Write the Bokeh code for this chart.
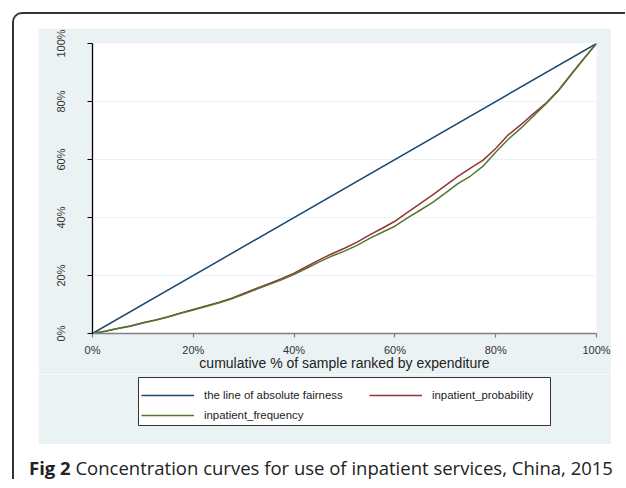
from bokeh.plotting import figure
from bokeh.models import Range1d, FixedTicker, Legend, LegendItem, Div
from bokeh.layouts import column
from bokeh.embed import file_html
from bokeh.resources import INLINE

# ---- data (percent) ----
x_pct = [0, 2.5, 5, 7.5, 10, 12.5, 15, 17.5, 20, 22.5, 25, 27.5, 30, 32.5, 35, 37.5,
         40, 42.5, 45, 47.5, 50, 52.5, 55, 57.5, 60, 62.5, 65, 67.5, 70, 72.5, 75,
         77.5, 80, 82.5, 85, 87.5, 90, 92.5, 95, 97.5, 100]
inpatient_probability = [0, 0.8, 1.7, 2.6, 3.7, 4.7, 5.8, 7.1, 8.3, 9.5, 10.7, 12.1, 13.8,
                         15.5, 17.2, 18.9, 20.8, 23.1, 25.4, 27.5, 29.4, 31.5, 34.0, 36.3,
                         38.7, 41.8, 44.8, 47.8, 51.0, 54.2, 57.0, 59.8, 63.8, 68.5, 72.0,
                         75.8, 79.5, 84.0, 89.5, 94.8, 100]
inpatient_frequency = [0, 0.8, 1.7, 2.5, 3.6, 4.6, 5.7, 7.0, 8.1, 9.3, 10.5, 11.9, 13.5,
                       15.2, 16.9, 18.5, 20.4, 22.5, 24.7, 26.7, 28.4, 30.4, 32.8, 34.9,
                       37.0, 39.9, 42.5, 45.2, 48.4, 51.7, 54.3, 57.7, 62.5, 67.0, 70.8,
                       75.0, 79.2, 83.8, 89.3, 94.7, 100]
fairness_x = [0, 100]
fairness_y = [0, 100]
ticks = [0, 20, 40, 60, 80, 100]
tick_labels = ["0%", "20%", "40%", "60%", "80%", "100%"]

series_names = ["the line of absolute fairness", "inpatient_probability", "inpatient_frequency"]
x_title = "cumulative % of sample ranked by expenditure"
caption_bold = "Fig 2"
caption_text = "Concentration curves for use of inpatient services, China, 2015"

PANEL = "#EAF2F3"
NAVY = "#1A476F"
MAROON = "#90353B"
GREEN = "#55752F"
FONT = "Liberation Sans"

# ---------------- main chart ----------------
p = figure(width=573, height=346, output_backend="svg", toolbar_location=None,
           x_range=Range1d(0, 100), y_range=Range1d(0, 100),
           min_border_left=54, min_border_right=15, min_border_top=15,
           min_border_bottom=41)
p.background_fill_color = "white"
p.border_fill_color = PANEL
p.outline_line_color = None

p.line(fairness_x, fairness_y, line_color=NAVY, line_width=1.5)
p.line(x_pct, inpatient_probability, line_color=MAROON, line_width=1.5)
p.line(x_pct, inpatient_frequency, line_color=GREEN, line_width=1.5)

labels = {t: l for t, l in zip(ticks, tick_labels)}

xa = p.xaxis[0]
xa.ticker = FixedTicker(ticks=ticks)
xa.major_label_overrides = labels
xa.axis_line_color = "#808080"
xa.axis_line_width = 1.6
xa.major_tick_line_color = "#808080"
xa.major_tick_line_width = 1.3
xa.major_tick_out = 4
xa.major_tick_in = 0
xa.minor_tick_line_color = None
xa.major_label_text_font = FONT
xa.major_label_text_font_size = "11px"
xa.major_label_text_color = "#333333"
xa.major_label_standoff = 6
xa.axis_label = x_title
xa.axis_label_text_font = FONT
xa.axis_label_text_font_style = "normal"
xa.axis_label_text_font_size = "14px"
xa.axis_label_text_color = "#222222"
xa.axis_label_standoff = -4

ya = p.yaxis[0]
ya.ticker = FixedTicker(ticks=ticks)
ya.major_label_overrides = labels
ya.axis_line_color = "black"
ya.axis_line_width = 1.3
ya.major_tick_line_color = "black"
ya.major_tick_line_width = 1.2
ya.major_tick_out = 5
ya.major_tick_in = 0
ya.minor_tick_line_color = None
ya.major_label_orientation = "vertical"
ya.major_label_text_font = FONT
ya.major_label_text_font_size = "11px"
ya.major_label_text_color = "#333333"
ya.major_label_standoff = 21

p.xgrid.grid_line_color = None
p.ygrid.grid_line_color = PANEL
p.ygrid.grid_line_width = 1.2
p.ygrid.ticker = FixedTicker(ticks=ticks)

# ---------------- legend strip (its frame is the legend box) ----------------
q = figure(width=573, height=70, output_backend="svg", toolbar_location=None,
           x_range=Range1d(0, 100), y_range=Range1d(0, 100),
           x_axis_location=None, y_axis_location=None,
           min_border_left=100, min_border_right=61, min_border_top=3,
           min_border_bottom=19)
q.background_fill_color = "white"
q.border_fill_color = PANEL
q.outline_line_color = "#333333"
q.outline_line_width = 1
q.grid.visible = False

# do not align the two frames with each other
for fig in (p, q):
    try:
        fig.frame_align = False
    except Exception:
        pass

# legend-only copies of the series (hidden in this strip)
lf = q.line(fairness_x, fairness_y, line_color=NAVY, line_width=1.5, visible=False)
lp = q.line(x_pct, inpatient_probability, line_color=MAROON, line_width=1.5, visible=False)
lq = q.line(x_pct, inpatient_frequency, line_color=GREEN, line_width=1.5, visible=False)

common = dict(border_line_color=None, background_fill_alpha=0,
              label_text_font=FONT, label_text_font_size="11.4px",
              label_text_color="#222222", glyph_width=53, glyph_height=20,
              label_height=20, label_standoff=10, spacing=0, padding=4, margin=0,
              inactive_fill_alpha=0)
leg1 = Legend(items=[LegendItem(label=series_names[0], renderers=[lf]),
                     LegendItem(label=series_names[2], renderers=[lq])],
              location=(3, 0), orientation="vertical", **common)
leg2 = Legend(items=[LegendItem(label=series_names[1], renderers=[lp])],
              location=(231, 20), orientation="vertical", **common)
q.add_layout(leg1)
q.add_layout(leg2)

caption = Div(text=f"<b>{caption_bold}</b> {caption_text}", width=596, height=22,
              margin=(13, 0, 0, 15),
              styles={"font-family": "Open Sans", "font-size": "18.5px",
                      "line-height": "22px", "color": "#222222",
                      "white-space": "nowrap"})
p.margin = (14, 0, 0, 24)
q.margin = (0, 0, 0, 24)

layout = column(p, q, caption, margin=(12, 0, 0, 12),
                styles={"border-top": "2px solid #333333",
                        "border-left": "2px solid #333333",
                        "border-top-left-radius": "10px"})

open("out.html", "w").write(file_html(layout, INLINE))
